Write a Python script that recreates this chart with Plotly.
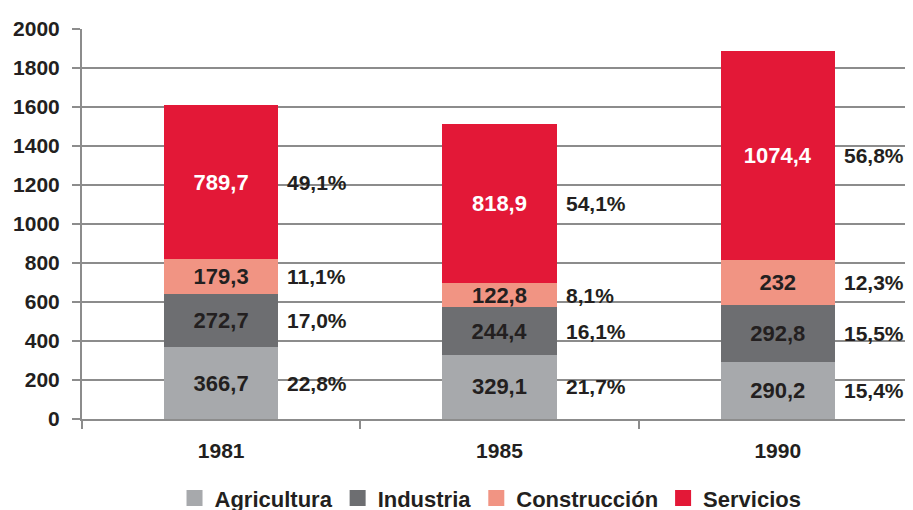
import plotly.graph_objects as go

years = ["1981", "1985", "1990"]
series_names = ["Agricultura", "Industria", "Construcción", "Servicios"]
agricultura = [366.7, 329.1, 290.2]
industria = [272.7, 244.4, 292.8]
construccion = [179.3, 122.8, 232.0]
servicios = [789.7, 818.9, 1074.4]
pct_agricultura = ["22,8%", "21,7%", "15,4%"]
pct_industria = ["17,0%", "16,1%", "15,5%"]
pct_construccion = ["11,1%", "8,1%", "12,3%"]
pct_servicios = ["49,1%", "54,1%", "56,8%"]
y_ticks = list(range(0, 2001, 200))

colors = ["#A7A9AC", "#6D6E71", "#F19483", "#E31837"]
text_colors = ["#231F20", "#231F20", "#231F20", "#FFFFFF"]
FONT = "Liberation Sans, Arial, sans-serif"
BAR_W = 0.41

series_vals = [agricultura, industria, construccion, servicios]
series_pcts = [pct_agricultura, pct_industria, pct_construccion, pct_servicios]


def fmt(v):
    return f"{v:g}".replace(".", ",")


fig = go.Figure()
for name, vals, col, tcol in zip(series_names, series_vals, colors, text_colors):
    fig.add_trace(go.Bar(
        x=years, y=vals, name=name, width=BAR_W,
        marker=dict(color=col, line=dict(width=0)),
        text=[fmt(v) for v in vals], textposition="inside",
        insidetextanchor="middle", constraintext="none",
        textfont=dict(family=FONT, size=22, color=tcol, weight="bold"),
        showlegend=False, hoverinfo="skip",
    ))
    fig.add_trace(go.Scatter(
        x=[None], y=[None], mode="markers", name=name,
        marker=dict(symbol="square", size=16, color=col),
        showlegend=True,
    ))

# percentage labels at the centre of each segment, to the right of the bar
annotations = []
for i in range(len(years)):
    base = 0.0
    for vals, pcts in zip(series_vals, series_pcts):
        mid = base + vals[i] / 2
        base += vals[i]
        annotations.append(dict(
            x=i + BAR_W / 2, y=mid, xref="x", yref="y",
            text=pcts[i], showarrow=False, xanchor="left", yanchor="middle",
            xshift=7, font=dict(family=FONT, size=21, color="#231F20", weight="bold"),
        ))

fig.update_layout(
    barmode="stack",
    width=905, height=502,
    margin=dict(l=74, r=0, t=21, b=91, autoexpand=False),
    plot_bgcolor="white", paper_bgcolor="white",
    annotations=annotations,
    uniformtext=dict(mode="show", minsize=22),
    legend=dict(
        orientation="h", traceorder="normal",
        x=0.4916, xanchor="center", xref="paper",
        y=-0.149, yanchor="top", yref="paper",
        font=dict(family=FONT, size=22, color="#231F20", weight="bold"),
        itemclick=False, itemdoubleclick=False,
        bgcolor="rgba(0,0,0,0)",
    ),
    showlegend=True,
)
fig.update_xaxes(
    type="category", range=[-0.5, 2.486], automargin=False,
    showline=True, linecolor="#8C8C8C", linewidth=2,
    ticks="outside", tickson="boundaries", ticklen=8, tickwidth=2, tickcolor="#8C8C8C",
    ticklabelstandoff=12,
    tickfont=dict(family=FONT, size=21, color="#231F20", weight="bold"),
    showgrid=False, zeroline=False,
)
fig.update_yaxes(
    range=[0, 2000], tickvals=y_ticks, automargin=False,
    showline=True, linecolor="#8C8C8C", linewidth=2,
    ticks="outside", ticklen=8, tickwidth=2, tickcolor="#8C8C8C",
    ticklabelstandoff=8,
    showgrid=True, gridcolor="#8C8C8C", gridwidth=2, zeroline=False,
    tickfont=dict(family=FONT, size=21, color="#231F20", weight="bold"),
)

fig.write_html("out.html")
